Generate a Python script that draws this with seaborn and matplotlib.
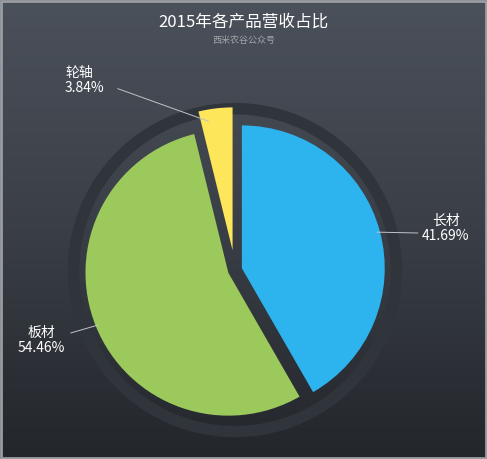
import numpy as np
import matplotlib
matplotlib.use("Agg")
import matplotlib.pyplot as plt
import seaborn as sns
from matplotlib.patches import Wedge, Rectangle
from matplotlib.colors import LinearSegmentedColormap

sns.set_theme(style="white")
plt.rcParams['font.family'] = ['Noto Sans CJK SC', 'DejaVu Sans']

categories = ["长材", "板材", "轮轴"]
values = [41.69, 54.46, 3.84]
colors = ["#2db3ee", "#9cc95c", "#fde65a"]
explode = [0.05, 0.05, 0.14]

fig = plt.figure(figsize=(4.87, 4.59), dpi=100)
bg = fig.add_axes([0, 0, 1, 1])
grad = np.linspace(0, 1, 256).reshape(-1, 1)
cm = LinearSegmentedColormap.from_list("bg", ["#4b515a", "#3a3f47", "#23262b"])
bg.imshow(grad, aspect="auto", cmap=cm, extent=[0, 1, 0, 1])
bg.add_patch(Rectangle((0.002, 0.002), 0.996, 0.996, fill=False, ec="#9a9ea3", lw=2, transform=bg.transAxes))
bg.set_axis_off()

fig.text(0.5, 0.952, "2015年各产品营收占比", color="white", fontsize=12, ha="center", va="center")
fig.text(0.5, 0.912, "西米农谷公众号", color="#a0a4aa", fontsize=6.5, ha="center", va="center")

ax = fig.add_axes([0.130, 0.038, 0.705, 0.747])
ax.set_aspect("equal")
ax.add_patch(Wedge((0, 0), 1.17, 0, 360, width=0.08, fc="#30343b", ec="none", zorder=0))
wedges, _ = ax.pie(values, colors=colors, startangle=90, counterclock=False,
                   explode=explode, radius=1.0, wedgeprops=dict(lw=0))
ax.set_xlim(-1.2, 1.2)
ax.set_ylim(-1.2, 1.2)
ax.set_axis_off()

# label text anchor, line end, alignment
lab = {"长材": ((1.31, 0.29), (1.28, 0.26), "left"),
       "板材": ((-1.19, -0.49), (-1.15, -0.44), "right"),
       "轮轴": ((-1.19, 1.33), (-0.82, 1.27), "left")}
for w, cat, v in zip(wedges, categories, values):
    ang = np.deg2rad((w.theta1 + w.theta2) / 2)
    (tx, ty), (ex, ey), ha = lab[cat]
    x0, y0 = np.cos(ang) * 1.03, np.sin(ang) * 1.03
    if cat == "轮轴":
        x0, y0 = np.cos(ang) * 1.05 - 0.06, np.sin(ang) * 1.05
    ax.plot([x0, ex], [y0, ey], color="#c0c3c8", lw=0.7, clip_on=False)
    ax.text(tx, ty, f"{cat}\n{v:.2f}%", color="white", fontsize=10,
            ha=ha, va="center", linespacing=1.1, multialignment="center" if cat != "轮轴" else "left")

fig.savefig("out.png", dpi=100)
